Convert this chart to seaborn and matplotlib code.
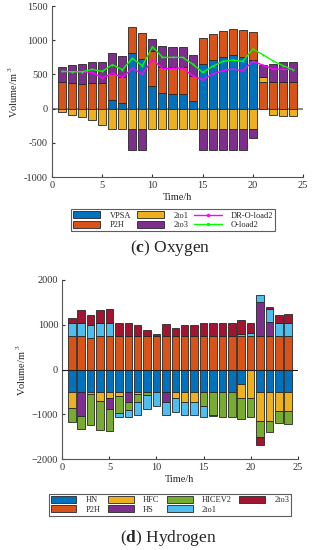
import numpy as np
import matplotlib
matplotlib.use('Agg')
import matplotlib.pyplot as plt
import seaborn as sns
from matplotlib.patches import Patch
from matplotlib.lines import Line2D

sns.set_style('ticks')
plt.rcParams['font.family'] = ['Liberation Serif', 'DejaVu Serif']
plt.rcParams['mathtext.fontset'] = 'custom'
plt.rcParams['mathtext.rm'] = 'Liberation Serif'
plt.rcParams['mathtext.bf'] = 'Liberation Serif:bold'

hours = np.arange(1, 25)

# oxygen (c)
vpsa = [0, 0, 0, 0, 0, 125, 85, 810, 720, 335, 225, 220, 220, 115, 650, 715, 760, 790, 760, 710, 0, 0, 0, 0]
o_p2h = [385, 380, 360, 380, 380, 380, 380, 380, 385, 510, 380, 385, 385, 365, 380, 375, 380, 375, 390, 410, 385, 385, 385, 385]
o_2to1 = [-55, -90, -120, -170, -240, -300, -300, -300, -300, -300, -300, -300, -300, -300, -300, -300, -300, -300, -300, -300, 75, -90, -105, -112]
o_2to3 = [220, 255, 300, 305, 305, 305, 305, -300, -300, 170, 305, 300, 300, 307, -300, -300, -300, -300, -300, -130, 185, 275, 295, 295]
dr_o_load2 = [545, 540, 540, 531, 448, 516, 458, 589, 506, 716, 589, 589, 594, 482, 424, 506, 555, 580, 555, 691, 638, 580, 575, 575]
o_load2 = [545, 540, 540, 575, 545, 643, 570, 735, 628, 906, 750, 750, 750, 652, 531, 618, 691, 711, 691, 872, 790, 700, 630, 570]

# hydrogen (d)
hn = [-500] * 18 + [-320, -20] + [-500] * 4
h_p2h = [750, 750, 700] + [750] * 21
hfc = [-365, 0, -45, -194, -134, -97, 0, -45, 0, 0, 0, -142, -216, -216, 0, 0, 0, 0, -314, -614, -640, -650, -418, -418]
hs = [0, -544, 0, 0, -246, 0, -216, 0, 0, 0, -231, 0, 0, 0, 0, 0, 0, 0, 0, 0, 750, 320, 0, 0]
hicev2 = [-314, -284, -685, -656, -485, -373, -179, -171, -60, 0, 0, 0, 0, 0, -306, -515, -552, -552, -470, -426, -373, -246, -283, -298]
h_2to1 = [295, 295, 285, 295, 295, -97, -172, -291, -320, -306, -284, -313, -291, -291, -246, -29, 0, 0, 50, 70, 170, 290, 290, 290]
h_2to3 = [115, 275, 225, 290, 300, 295, 295, 235, 123, 48, 257, 183, 235, 235, 295, 295, 295, 295, 297, 224, -166, 35, 170, 190]

blue = '#0072BD'
orange = '#D95319'
yellow = '#EDB120'
purple = '#7E2F8E'
green = '#77AC30'
lblue = '#4DBEEE'
red = '#A2142F'


def stacked(ax, series, colors):
    pos = np.zeros(len(hours))
    neg = np.zeros(len(hours))
    for vals, c in zip(series, colors):
        v = np.array(vals, dtype=float)
        bottom = np.where(v >= 0, pos, neg)
        sns.barplot(x=hours, y=v, bottom=bottom, native_scale=True, color=c,
                    saturation=1, width=0.8, edgecolor='#262626', linewidth=0.6,
                    errorbar=None, ax=ax)
        pos += np.clip(v, 0, None)
        neg += np.clip(v, None, 0)
    # hide the empty segments
    for p in ax.patches:
        if p.get_height() == 0:
            p.set_visible(False)


def style_axes(ax):
    sns.despine(ax=ax)
    ax.spines['left'].set_color('#555555')
    ax.spines['bottom'].set_color('#555555')
    ax.tick_params(direction='in', length=2.5, labelsize=7.5, colors='#333333', pad=3)
    ax.set_xlim(0, 25)
    ax.set_xticks([0, 5, 10, 15, 20, 25])
    ax.set_xticklabels(['0', '5', '10', '15', '20', '25'])
    ax.set_xlabel('Time/h', fontsize=7.5, labelpad=2)
    ax.set_ylabel(r'Volume/m$^{\ 3}$', fontsize=7.5, labelpad=3)


fig = plt.figure(figsize=(3.12, 5.5), dpi=100)

# ---- Oxygen
ax1 = fig.add_axes([0.167, 0.678, 0.804, 0.311])
stacked(ax1, [vpsa, o_p2h, o_2to1, o_2to3], [blue, orange, yellow, purple])
ax1.axhline(0, color='#888888', lw=1.4, zorder=0.5)
sns.lineplot(x=hours, y=dr_o_load2, color='#FF00FF', marker='.', markersize=3,
             markeredgewidth=0, linewidth=1, ax=ax1, legend=False)
sns.lineplot(x=hours, y=o_load2, color='#00FF00', marker='.', markersize=3,
             markeredgewidth=0, linewidth=1, ax=ax1, legend=False)
ax1.set_ylim(-1000, 1500)
ax1.set_yticks([-1000, -500, 0, 500, 1000, 1500])
ax1.set_yticklabels(['-1000', '-500', '0', '500', '1000', '1500'])
style_axes(ax1)

h1 = [Patch(facecolor=blue, edgecolor='#262626', lw=0.6, label='VPSA'),
      Patch(facecolor=orange, edgecolor='#262626', lw=0.6, label='P2H'),
      Patch(facecolor=yellow, edgecolor='#262626', lw=0.6, label='2to1'),
      Patch(facecolor=purple, edgecolor='#262626', lw=0.6, label='2to3'),
      Line2D([], [], color='#FF00FF', marker='.', markersize=3, lw=1, label='DR-O-load2'),
      Line2D([], [], color='#00FF00', marker='.', markersize=3, lw=1, label='O-load2')]
leg1 = fig.legend(handles=h1, ncol=3, loc='upper center', bbox_to_anchor=(0.555, 0.627),
                  fontsize=6, frameon=True, fancybox=False, edgecolor='#333333',
                  handlelength=3.3, handleheight=0.9, handletextpad=1.1,
                  columnspacing=0.7, labelspacing=0.15, borderpad=0.25)
leg1.get_frame().set_linewidth(0.8)
fig.text(0.545, 0.549, r'($\mathbf{c}$) Oxygen', ha='center', va='center', fontsize=12.5)

# ---- Hydrogen
ax2 = fig.add_axes([0.2, 0.165, 0.754, 0.326])
stacked(ax2, [hn, h_p2h, hfc, hs, hicev2, h_2to1, h_2to3],
        [blue, orange, yellow, purple, green, lblue, red])
ax2.plot([0, 25], [0, 0], color='#222222', lw=0.8, zorder=3)
ax2.set_ylim(-2000, 2000)
ax2.set_yticks([-2000, -1000, 0, 1000, 2000])
ax2.set_yticklabels(['\u22122000', '\u22121000', '0', '1000', '2000'])
style_axes(ax2)

h2 = [Patch(facecolor=c, edgecolor='#262626', lw=0.6, label=l) for c, l in
      zip([blue, orange, yellow, purple, green, lblue, red],
          ['HN', 'P2H', 'HFC', 'HS', 'HICEV2', '2to1', '2to3'])]
leg2 = fig.legend(handles=h2, ncol=4, loc='upper center', bbox_to_anchor=(0.545, 0.11),
                  fontsize=6, frameon=True, fancybox=False, edgecolor='#333333',
                  handlelength=3.1, handleheight=0.9, handletextpad=1.1,
                  columnspacing=0.9, labelspacing=0.15, borderpad=0.25)
leg2.get_frame().set_linewidth(0.8)
fig.text(0.54, 0.022, r'($\mathbf{d}$) Hydrogen', ha='center', va='center', fontsize=12.5)

fig.savefig('out.png', dpi=100)
